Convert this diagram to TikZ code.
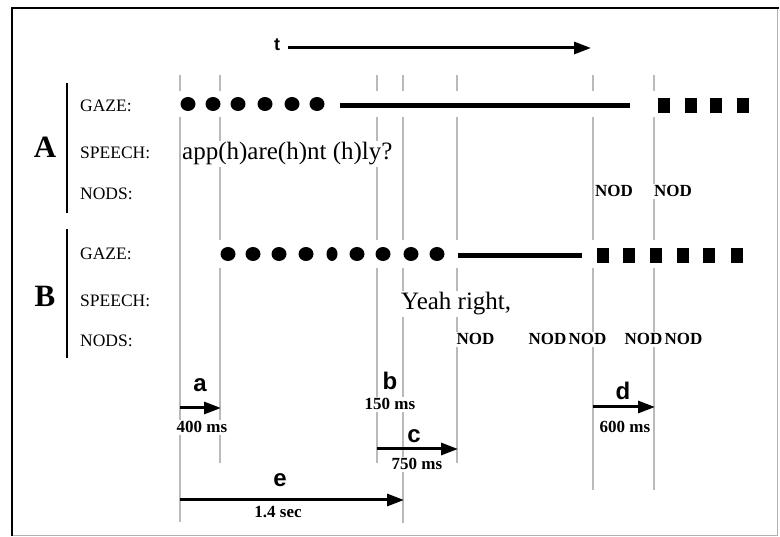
\documentclass[tikz,border=0pt]{standalone}
\usepackage{fontspec}
\setmainfont{Liberation Serif}
\newfontfamily\hsans{Liberation Sans}
\usetikzlibrary{arrows.meta}
\begin{document}
\begin{tikzpicture}[x=1pt,y=-1pt,
  guide/.style={draw=black!27,line width=1.3pt},
  rowlab/.style={anchor=base west,inner sep=0pt,font=\fontsize{17.5}{19}\selectfont},
  who/.style={anchor=base,inner sep=0pt,font=\fontsize{31}{33}\selectfont\bfseries},
  speech/.style={anchor=base west,fill=white,inner sep=1.5pt,font=\fontsize{25}{27}\selectfont},
  nod/.style={anchor=base west,fill=white,inner sep=1.5pt,font=\fontsize{17}{19}\selectfont\bfseries},
  letter/.style={anchor=base,inner sep=0pt,font=\hsans\bfseries\fontsize{24}{26}\selectfont},
  dur/.style={anchor=base,fill=white,inner sep=1.5pt,font=\fontsize{17}{18}\selectfont\bfseries},
  arr/.style={-{Triangle[length=17pt,width=12pt]},line width=3pt},
  bracket/.style={line width=2.8pt},
  gazeline/.style={line width=5pt}
]
\useasboundingbox (0,0) rectangle (780,537);
% frame
\draw[black!30,line width=1pt] (777,8) -- (777,535) -- (12,535);
\draw[line width=2.6pt] (12,536) -- (12,8) -- (779,8);

% time arrow
\node[letter,font=\hsans\bfseries\fontsize{18}{20}\selectfont] (t) at (277,51) {t};
\coordinate (tS) at (288,48);
\coordinate (tE) at (591,48);
\draw[arr] (tS) -- (tE);

% guide lines
\foreach \x/\b [count=\i] in {180/522,220/463,377/463,403/523,457/463,593/490,654/490} {
  \coordinate (top\i) at (\x,75);
  \coordinate (bot\i) at (\x,\b);
  \draw[guide] (top\i) -- (bot\i);
}
\fill[white] (170,91) rectangle (770,117);
\fill[white] (200,240) rectangle (770,268);

% brackets and participants
\draw[bracket] (67,83) -- (67,213);
\draw[bracket] (67,229) -- (67,358);
\node[who] (A) at (45,158) {A};
\node[who] (B) at (45,307) {B};

% row labels
\node[rowlab] (gA) at (80,112) {GAZE:};
\node[rowlab] (sA) at (80,159) {SPEECH:};
\node[rowlab] (nA) at (80,200) {NODS:};
\node[rowlab] (gB) at (80,260) {GAZE:};
\node[rowlab] (sB) at (80,307) {SPEECH:};
\node[rowlab] (nB) at (80,347) {NODS:};

% gaze A
\foreach \x in {188,213,238,265,292,317} \fill (\x,104) ellipse (7.5 and 7);
\draw[gazeline] (340,106) -- (630,106);
\foreach \x in {664,691,716,743} \fill (\x-6,98.5) rectangle (\x+6,113.5);

% gaze B
\foreach \x in {228,253,279,306,357,383,411,437} \fill (\x,254) ellipse (7.5 and 7);
\fill (332,254) ellipse (5.5 and 7);
\draw[gazeline] (458,256) -- (582,256);
\foreach \x in {603,629,656,683,709,737} \fill (\x-6,248) rectangle (\x+6,263);

% speech
\node[speech] (spA) at (180.5,160) {app(h)are(h)nt (h)ly?};
\node[speech] (spB) at (399.5,310) {Yeah right,};

% nods
\node[nod] (nA1) at (593.5,197) {NOD};
\node[nod] (nA2) at (652.5,197) {NOD};
\node[nod] (nB1) at (455,345) {NOD};
\node[nod] (nB2) at (527,345) {NOD};
\node[nod] (nB3) at (567,345) {NOD};
\node[nod] (nB4) at (623,345) {NOD};
\node[nod] (nB5) at (663,345) {NOD};

% intervals
\node[letter] (la) at (200,392) {a};
\coordinate (aS) at (180,408);
\coordinate (aE) at (221,408);
\draw[arr] (aS) -- (aE);
\node[dur] (da) at (202,433) {400 ms};

\node[letter] (lb) at (390,390) {b};
\node[dur] (db) at (390,410) {150 ms};

\node[letter] (lc) at (414,443) {c};
\coordinate (cS) at (377,449);
\coordinate (cE) at (458,449);
\draw[arr] (cS) -- (cE);
\node[dur] (dc) at (417,470) {750 ms};

\node[letter] (ld) at (623,400) {d};
\coordinate (dS) at (593,407);
\coordinate (dE) at (655,407);
\draw[arr] (dS) -- (dE);
\node[dur] (dd) at (625,433) {600 ms};

\node[letter] (le) at (280,487) {e};
\coordinate (eS) at (180,500);
\coordinate (eE) at (404,500);
\draw[arr] (eS) -- (eE);
\node[dur] (de) at (278,518) {1.4 sec};
\end{tikzpicture}
\end{document}
